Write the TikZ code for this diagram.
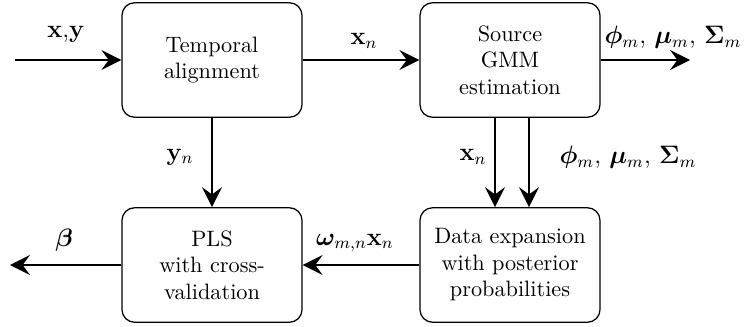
\documentclass[tikz,border=0pt]{standalone}
\usepackage{bm}
\usetikzlibrary{arrows.meta}
\begin{document}
\begin{tikzpicture}[x=0.476pt,y=-0.476pt,
  blockbox/.style={draw, rounded corners=6pt, line width=0.6pt,
    minimum width=85.7pt, minimum height=54.5pt, inner sep=0pt,
    align=center, font=\fontsize{10.6}{12.6}\selectfont},
  arr/.style={line width=0.6pt, -{Stealth[length=9.5pt,width=9.5pt,inset=3.5pt]}},
  lbl/.style={inner sep=0pt, font=\fontsize{12}{14}\selectfont}]
\useasboundingbox (0,0) rectangle (744,327);

% processing blocks
\node[blockbox] (align) at (212,60) {Temporal\\alignment};
\node[blockbox] (gmm)   at (510,60) {Source\\GMM\\estimation};
\node[blockbox] (expand) at (510,265) {Data expansion\\with posterior\\probabilities};
\node[blockbox] (pls)   at (212,265) {PLS\\with cross-\\validation};

% free ends of the input and output connectors
\coordinate (in)   at (15,60);
\coordinate (out1) at (690,60);
\coordinate (out2) at (10,265);
\coordinate (c1)   at (495,0);
\coordinate (c2)   at (529,0);

% connectors
\draw[arr] (in) -- (align.west);
\draw[arr] (align.east) -- (gmm.west);
\draw[arr] (gmm.east) -- (out1);
\draw[arr] (align.south) -- (pls.north);
\draw[arr] (gmm.south -| c1) -- (expand.north -| c1);
\draw[arr] (gmm.south -| c2) -- (expand.north -| c2);
\draw[arr] (expand.west) -- (pls.east);
\draw[arr] (pls.west) -- (out2);

% connector labels
\node[lbl] (l1) at (66,34) {$\mathbf{x}$,$\mathbf{y}$};
\node[lbl] (l2) at (364,41) {$\mathbf{x}_n$};
\node[lbl] (l3) at (673,37) {$\bm{\phi}_m$, $\bm{\mu}_m$, $\bm{\Sigma}_m$};
\node[lbl] (l4) at (180,157) {$\mathbf{y}_n$};
\node[lbl] (l5) at (473,157) {$\mathbf{x}_n$};
\node[lbl] (l6) at (628,157) {$\bm{\phi}_m$, $\bm{\mu}_m$, $\bm{\Sigma}_m$};
\node[lbl] (l7) at (355,243) {$\bm{\omega}_{m,n}\mathbf{x}_n$};
\node[lbl] (l8) at (64,240) {$\bm{\beta}$};
\end{tikzpicture}
\end{document}
